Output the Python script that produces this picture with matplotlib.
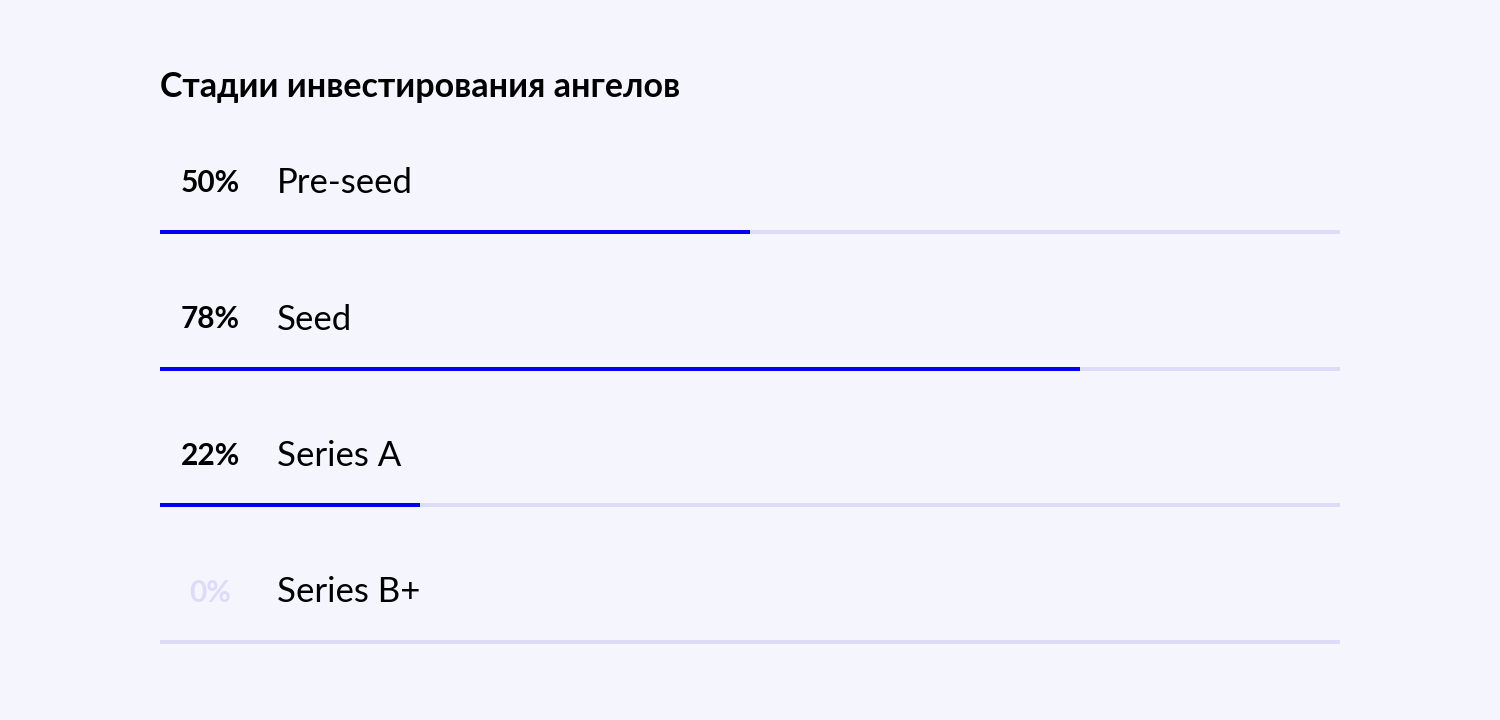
import matplotlib.pyplot as plt

TITLE = 'Стадии инвестирования ангелов'
stages = ['Pre-seed', 'Seed', 'Series A', 'Series B+']
shares = [50, 78, 22, 0]

BG = '#F5F5FE'
TRACK = '#DCDCF8'
BLUE = '#0000EE'
FAMILY = ['Lato', 'DejaVu Sans']

W, H = 1500, 720
fig = plt.figure(figsize=(W / 100, H / 100), dpi=100, facecolor=BG)
ax = fig.add_axes([160 / W, 0, 1180 / W, 1])
ax.set_facecolor(BG)
ax.set_xlim(0, 100)
ax.set_ylim(H, 0)  # y in pixels from top
ax.axis('off')

for i, (name, val) in enumerate(zip(stages, shares)):
    ybar = 232 + i * 136.5
    ytxt = ybar - 49
    ax.barh(ybar, 100, height=4, left=0, color=TRACK, linewidth=0)
    if val > 0:
        ax.barh(ybar, val, height=4, left=0, color=BLUE, linewidth=0)
    pcol = 'black' if val > 0 else TRACK
    fig.text(210 / W, 1 - ytxt / H, f'{val}%', ha='center', va='center',
             fontsize=21.5, fontweight='bold', color=pcol, family=FAMILY)
    fig.text(277 / W, 1 - ytxt / H, name, ha='left', va='center',
             fontsize=25, color='black', family=FAMILY)

fig.text(160 / W, 1 - 87 / H, TITLE, ha='left', va='center',
         fontsize=24.5, fontweight='bold', color='black', family=FAMILY)

fig.savefig('out.png', dpi=100, facecolor=BG)
